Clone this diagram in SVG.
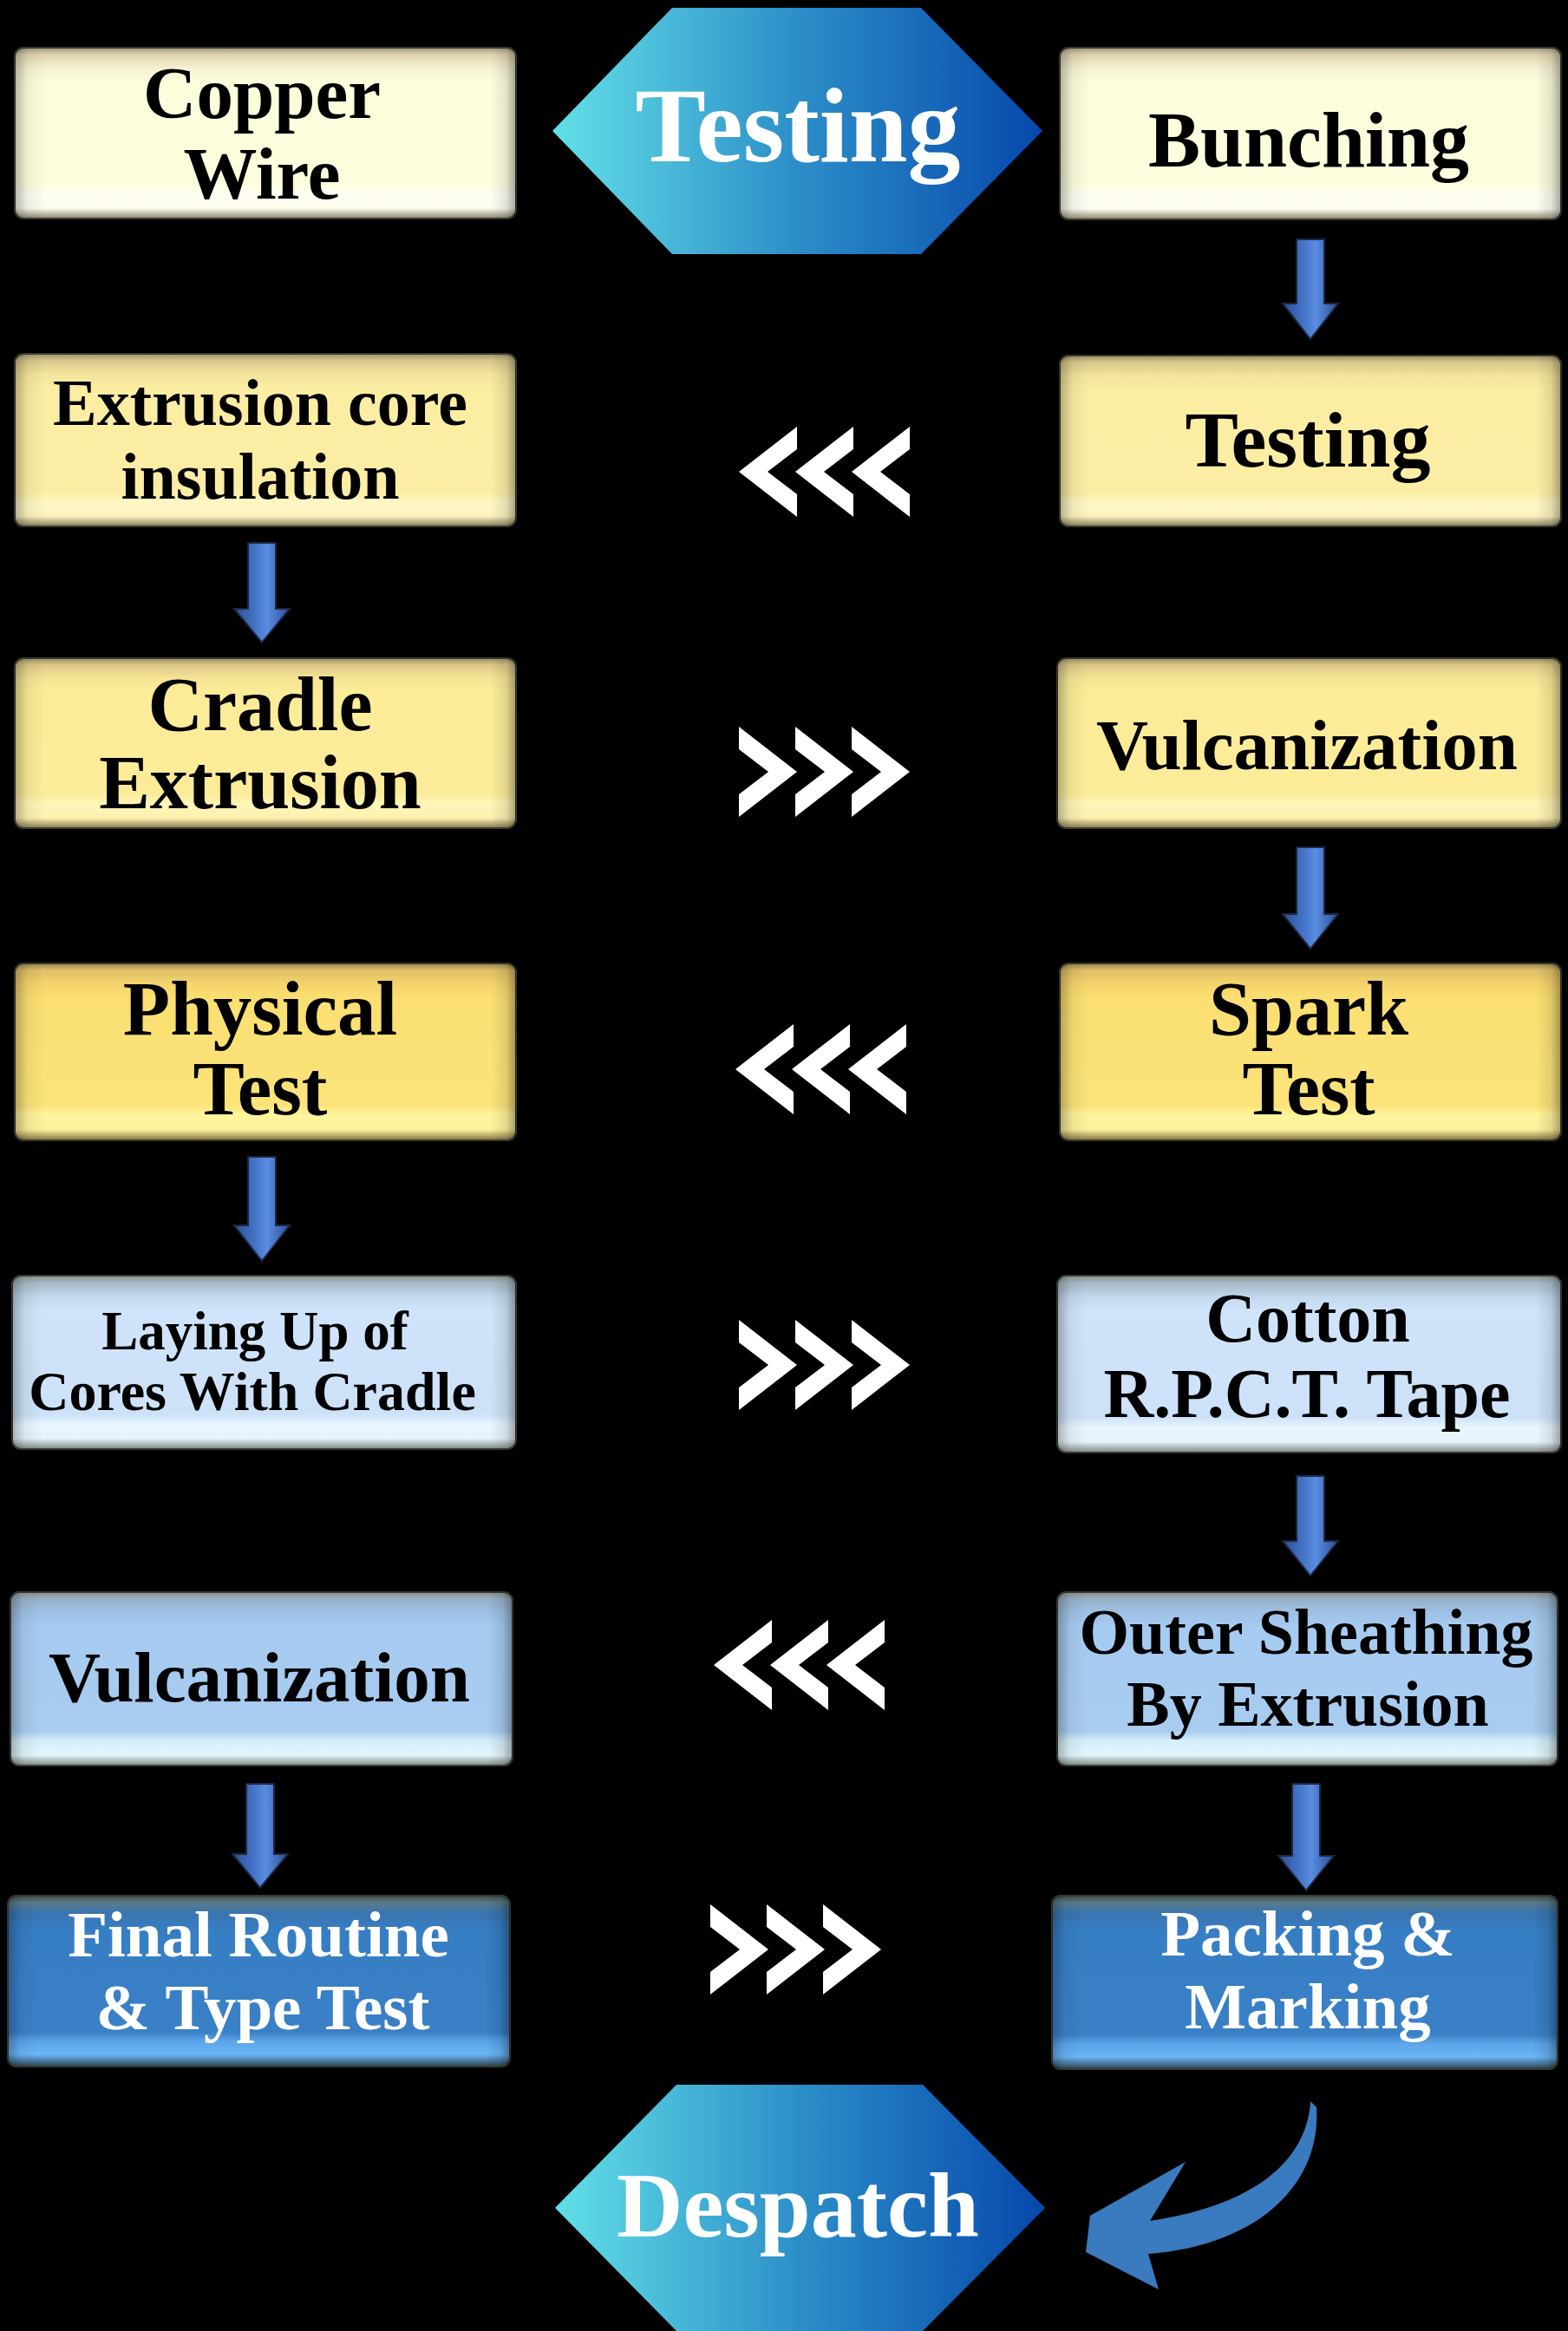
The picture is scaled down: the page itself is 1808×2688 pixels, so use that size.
<svg xmlns="http://www.w3.org/2000/svg" xmlns:xlink="http://www.w3.org/1999/xlink" width="1808" height="2688" viewBox="0 0 1808 2688">
<style>
.t{font-family:"Liberation Serif","Times New Roman",serif;font-weight:bold;text-anchor:middle;fill:#000}
.w{fill:#fff}
.box{stroke:#3a3a30;stroke-width:2}
.shade{fill:url(#side)}
.arr{fill:url(#arrg);stroke:#1c2640;stroke-width:2}
.chev{fill:#fff}
</style>
<defs>
<linearGradient id="side" x1="0" y1="0" x2="1" y2="0">
<stop offset="0" stop-color="#000" stop-opacity="0.28"/>
<stop offset="0.025" stop-color="#000" stop-opacity="0.06"/>
<stop offset="0.06" stop-color="#000" stop-opacity="0"/>
<stop offset="0.95" stop-color="#000" stop-opacity="0"/>
<stop offset="0.98" stop-color="#000" stop-opacity="0.1"/>
<stop offset="1" stop-color="#000" stop-opacity="0.35"/>
</linearGradient>
<linearGradient id="g1" x1="0" y1="0" x2="0" y2="1">
<stop offset="0" stop-color="#9c967a"/><stop offset="0.04" stop-color="#ddd3ae"/><stop offset="0.12" stop-color="#f6f1d4"/><stop offset="0.2" stop-color="#fdfddc"/><stop offset="0.8" stop-color="#fdfdde"/><stop offset="0.86" stop-color="#fffef4"/><stop offset="0.94" stop-color="#fdfbee"/><stop offset="1" stop-color="#87846c"/>
</linearGradient>
<linearGradient id="g2" x1="0" y1="0" x2="0" y2="1">
<stop offset="0" stop-color="#9c9068"/><stop offset="0.04" stop-color="#d9c88c"/><stop offset="0.12" stop-color="#f4e49c"/><stop offset="0.2" stop-color="#fbeda2"/><stop offset="0.8" stop-color="#fbeea4"/><stop offset="0.86" stop-color="#fff6c4"/><stop offset="0.94" stop-color="#fcf3c0"/><stop offset="1" stop-color="#877c5a"/>
</linearGradient>
<linearGradient id="g3" x1="0" y1="0" x2="0" y2="1">
<stop offset="0" stop-color="#9c8e60"/><stop offset="0.04" stop-color="#dcc888"/><stop offset="0.12" stop-color="#f6e494"/><stop offset="0.2" stop-color="#fcec98"/><stop offset="0.8" stop-color="#fcec9a"/><stop offset="0.86" stop-color="#fff6b8"/><stop offset="0.94" stop-color="#fcf1b0"/><stop offset="1" stop-color="#857850"/>
</linearGradient>
<linearGradient id="g4" x1="0" y1="0" x2="0" y2="1">
<stop offset="0" stop-color="#9a8550"/><stop offset="0.04" stop-color="#e0c068"/><stop offset="0.12" stop-color="#f6d46c"/><stop offset="0.2" stop-color="#fbdf72"/><stop offset="0.8" stop-color="#fbe37a"/><stop offset="0.86" stop-color="#fff59c"/><stop offset="0.94" stop-color="#fcf09a"/><stop offset="1" stop-color="#80703e"/>
</linearGradient>
<linearGradient id="g5" x1="0" y1="0" x2="0" y2="1">
<stop offset="0" stop-color="#8a9488"/><stop offset="0.04" stop-color="#a6b8c6"/><stop offset="0.12" stop-color="#c2d8ee"/><stop offset="0.2" stop-color="#cfe4fa"/><stop offset="0.8" stop-color="#cde2f8"/><stop offset="0.86" stop-color="#e8f6ff"/><stop offset="0.94" stop-color="#e4f3fc"/><stop offset="1" stop-color="#7e8680"/>
</linearGradient>
<linearGradient id="g6" x1="0" y1="0" x2="0" y2="1">
<stop offset="0" stop-color="#8a9084"/><stop offset="0.04" stop-color="#98b0c8"/><stop offset="0.12" stop-color="#9ec2e6"/><stop offset="0.2" stop-color="#a6cbf0"/><stop offset="0.8" stop-color="#a8ccf0"/><stop offset="0.86" stop-color="#d6f0fc"/><stop offset="0.94" stop-color="#e2f6fc"/><stop offset="1" stop-color="#808880"/>
</linearGradient>
<linearGradient id="g7" x1="0" y1="0" x2="0" y2="1">
<stop offset="0" stop-color="#3e4e48"/><stop offset="0.04" stop-color="#5a7c88"/><stop offset="0.1" stop-color="#3a74b0"/><stop offset="0.2" stop-color="#367ec4"/><stop offset="0.8" stop-color="#3a80c6"/><stop offset="0.85" stop-color="#5aa4e8"/><stop offset="0.93" stop-color="#6ab6f6"/><stop offset="1" stop-color="#2e4250"/>
</linearGradient>
<linearGradient id="hex" x1="0" y1="0" x2="1" y2="0">
<stop offset="0" stop-color="#62e0e8"/><stop offset="0.5" stop-color="#2c8ec8"/><stop offset="1" stop-color="#0648ac"/>
</linearGradient>
<linearGradient id="arrg" x1="0" y1="0" x2="1" y2="0">
<stop offset="0" stop-color="#2c4c94"/><stop offset="0.45" stop-color="#4a7cd0"/><stop offset="0.6" stop-color="#5a8ce0"/><stop offset="1" stop-color="#2c4c94"/>
</linearGradient>
<g id="tri">
<path class="chev" d="M0 0L67 52L0 104L0 78L34 52L0 26Z"/>
<path class="chev" d="M65 0L132 52L65 104L65 78L99 52L65 26Z"/>
<path class="chev" d="M130 0L197 52L130 104L130 78L164 52L130 26Z"/>
</g>
</defs>
<rect x="0" y="0" width="1808" height="2688" fill="#000"/>

<g id="connectors">
<path class="arr" d="M1495 276H1527V350H1543L1511 391L1479 350H1495Z"/>
<path class="arr" d="M286 626H318V702H334L302 741L270 702H286Z"/>
<path class="arr" d="M1495 977H1527V1054H1543L1511 1094L1479 1054H1495Z"/>
<path class="arr" d="M286 1334H318V1413H334L302 1454L270 1413H286Z"/>
<path class="arr" d="M1495 1702H1527V1777H1543L1511 1817L1479 1777H1495Z"/>
<path class="arr" d="M284 2057H316V2138H332L300 2177L268 2138H284Z"/>
<path class="arr" d="M1490 2057H1522V2140H1538L1506 2180L1474 2140H1490Z"/>
<use xlink:href="#tri" href="#tri" transform="translate(1049 492) scale(-1 1)"/>
<use xlink:href="#tri" href="#tri" transform="translate(852 838)"/>
<use xlink:href="#tri" href="#tri" transform="translate(1045 1181) scale(-1 1)"/>
<use xlink:href="#tri" href="#tri" transform="translate(852 1522)"/>
<use xlink:href="#tri" href="#tri" transform="translate(1020 1868) scale(-1 1)"/>
<use xlink:href="#tri" href="#tri" transform="translate(819 2196)"/>
<path fill="#3a7abf" d="M1511 2423C1508 2478 1466 2540 1326 2561L1367 2493L1257 2555L1252 2597L1336 2640L1324 2599C1446 2590 1524 2522 1518 2430Z"/>
</g>

<g id="testing-hex">
<polygon points="637,151 775,9 1062,9 1202,151 1062,293 775,293" fill="url(#hex)"/>
<text class="t w" x="920" y="186" font-size="122">Testing</text>
</g>

<g id="copper-wire">
<rect class="box" x="17" y="55" width="578" height="197" rx="10" fill="url(#g1)"/>
<rect class="shade" x="17" y="55" width="578" height="197" rx="10"/>
<text class="t" x="302" y="136" font-size="85">Copper</text>
<text class="t" x="302" y="229" font-size="85">Wire</text>
</g>
<g id="bunching">
<rect class="box" x="1222" y="55" width="578" height="198" rx="10" fill="url(#g1)"/>
<rect class="shade" x="1222" y="55" width="578" height="198" rx="10"/>
<text class="t" x="1509" y="192" font-size="90">Bunching</text>
</g>

<g id="extrusion-core">
<rect class="box" x="17" y="408" width="578" height="199" rx="10" fill="url(#g2)"/>
<rect class="shade" x="17" y="408" width="578" height="199" rx="10"/>
<text class="t" x="300" y="490" font-size="76">Extrusion core</text>
<text class="t" x="300" y="575" font-size="76">insulation</text>
</g>
<g id="testing-2">
<rect class="box" x="1222" y="410" width="578" height="197" rx="10" fill="url(#g2)"/>
<rect class="shade" x="1222" y="410" width="578" height="197" rx="10"/>
<text class="t" x="1508" y="538" font-size="92">Testing</text>
</g>

<g id="cradle-extrusion">
<rect class="box" x="17" y="759" width="578" height="196" rx="10" fill="url(#g3)"/>
<rect class="shade" x="17" y="759" width="578" height="196" rx="10"/>
<text class="t" x="300" y="842" font-size="88">Cradle</text>
<text class="t" x="300" y="932" font-size="88">Extrusion</text>
</g>
<g id="vulcanization-1">
<rect class="box" x="1219" y="759" width="581" height="196" rx="10" fill="url(#g3)"/>
<rect class="shade" x="1219" y="759" width="581" height="196" rx="10"/>
<text class="t" x="1507" y="887" font-size="83">Vulcanization</text>
</g>

<g id="physical-test">
<rect class="box" x="17" y="1111" width="578" height="204" rx="10" fill="url(#g4)"/>
<rect class="shade" x="17" y="1111" width="578" height="204" rx="10"/>
<text class="t" x="300" y="1193" font-size="89">Physical</text>
<text class="t" x="300" y="1285" font-size="89">Test</text>
</g>
<g id="spark-test">
<rect class="box" x="1222" y="1111" width="578" height="204" rx="10" fill="url(#g4)"/>
<rect class="shade" x="1222" y="1111" width="578" height="204" rx="10"/>
<text class="t" x="1509" y="1193" font-size="88">Spark</text>
<text class="t" x="1509" y="1285" font-size="88">Test</text>
</g>

<g id="laying-up">
<rect class="box" x="14" y="1471" width="581" height="200" rx="10" fill="url(#g5)"/>
<rect class="shade" x="14" y="1471" width="581" height="200" rx="10"/>
<text class="t" x="294" y="1556" font-size="63">Laying Up of</text>
<text class="t" x="291" y="1626" font-size="64">Cores With Cradle</text>
</g>
<g id="cotton-tape">
<rect class="box" x="1219" y="1471" width="581" height="204" rx="10" fill="url(#g5)"/>
<rect class="shade" x="1219" y="1471" width="581" height="204" rx="10"/>
<text class="t" x="1508" y="1547" font-size="80">Cotton</text>
<text class="t" x="1507" y="1634" font-size="80">R.P.C.T. Tape</text>
</g>

<g id="vulcanization-2">
<rect class="box" x="12" y="1836" width="579" height="200" rx="10" fill="url(#g6)"/>
<rect class="shade" x="12" y="1836" width="579" height="200" rx="10"/>
<text class="t" x="299" y="1962" font-size="83">Vulcanization</text>
</g>
<g id="outer-sheathing">
<rect class="box" x="1219" y="1836" width="577" height="200" rx="10" fill="url(#g6)"/>
<rect class="shade" x="1219" y="1836" width="577" height="200" rx="10"/>
<text class="t" x="1506" y="1907" font-size="74">Outer Sheathing</text>
<text class="t" x="1508" y="1990" font-size="74">By Extrusion</text>
</g>

<g id="final-routine">
<rect class="box" x="9" y="2186" width="579" height="197" rx="10" fill="url(#g7)"/>
<rect class="shade" x="9" y="2186" width="579" height="197" rx="10"/>
<text class="t w" x="298" y="2256" font-size="75">Final Routine</text>
<text class="t w" x="303" y="2340" font-size="75">&amp; Type Test</text>
</g>
<g id="packing-marking">
<rect class="box" x="1213" y="2186" width="583" height="200" rx="10" fill="url(#g7)"/>
<rect class="shade" x="1213" y="2186" width="583" height="200" rx="10"/>
<text class="t w" x="1508" y="2255" font-size="75">Packing &amp;</text>
<text class="t w" x="1508" y="2339" font-size="75">Marking</text>
</g>

<g id="despatch-hex">
<polygon points="640,2546 780,2404 1064,2404 1205,2546 1064,2688 780,2688" fill="url(#hex)"/>
<text class="t w" x="920" y="2579" font-size="106">Despatch</text>
</g>
</svg>
